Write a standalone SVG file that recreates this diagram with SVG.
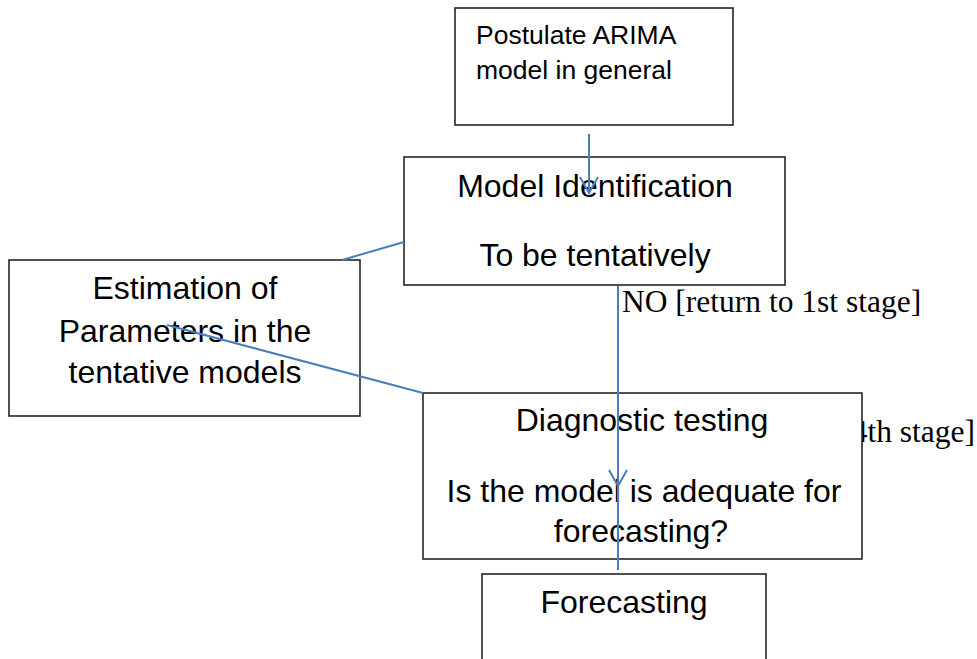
<svg xmlns="http://www.w3.org/2000/svg" width="977" height="659" viewBox="0 0 977 659">
<style>
.box{fill:#fff;stroke:#262626;stroke-width:1.6}
.t{font-family:"Liberation Sans",Arial,sans-serif;font-size:32px;fill:#000;text-anchor:middle}
.s{font-family:"Liberation Sans",Arial,sans-serif;font-size:26.5px;fill:#000}
.lbl{font-family:"Liberation Serif","Times New Roman",serif;font-size:31.5px;fill:#000}
.c{fill:none;stroke:#4A7EBB;stroke-width:2}
</style>
<defs>
<marker id="arr" viewBox="0 0 20 20" refX="18" refY="10" markerWidth="20" markerHeight="20" markerUnits="userSpaceOnUse" orient="auto">
<path d="M2,1 L18,10 L2,19" fill="none" stroke="#4A7EBB" stroke-width="2"/>
</marker>
</defs>
<g id="labels">
<text class="lbl" x="622" y="312">NO [return to 1st stage]</text>
<text class="lbl" x="975" y="442" text-anchor="end">4th stage]</text>
</g>
<g id="postulate">
<rect class="box" x="455" y="8" width="278" height="117"/>
<text class="s" x="476" y="44">Postulate ARIMA</text>
<text class="s" x="476" y="79">model in general</text>
</g>
<g id="identification">
<rect class="box" x="404" y="157" width="381" height="128"/>
<text class="t" x="595" y="197">Model Identification</text>
<text class="t" x="595" y="266">To be tentatively</text>
</g>
<g id="estimation">
<rect class="box" x="9" y="260" width="351" height="156"/>
<text class="t" x="185" y="299">Estimation of</text>
<text class="t" x="185" y="342">Parameters in the</text>
<text class="t" x="185" y="383">tentative models</text>
</g>
<g id="diagnostic">
<rect class="box" x="423" y="393" width="439" height="166"/>
<text class="t" x="642" y="431">Diagnostic testing</text>
<text class="t" x="644" y="502">Is the model is adequate for</text>
<text class="t" x="641" y="542">forecasting?</text>
</g>
<g id="forecasting">
<rect class="box" x="482" y="574" width="284" height="100"/>
<text class="t" x="624" y="613">Forecasting</text>
</g>
<g id="connectors">
<path class="c" d="M589,134 L589,193" marker-end="url(#arr)"/>
<path class="c" d="M404,242 L342,260"/>
<path class="c" d="M167,325 L423,393"/>
<path class="c" d="M618,286 L618,486" marker-end="url(#arr)"/>
<path class="c" d="M618,486 L618,570"/>
</g>
</svg>
